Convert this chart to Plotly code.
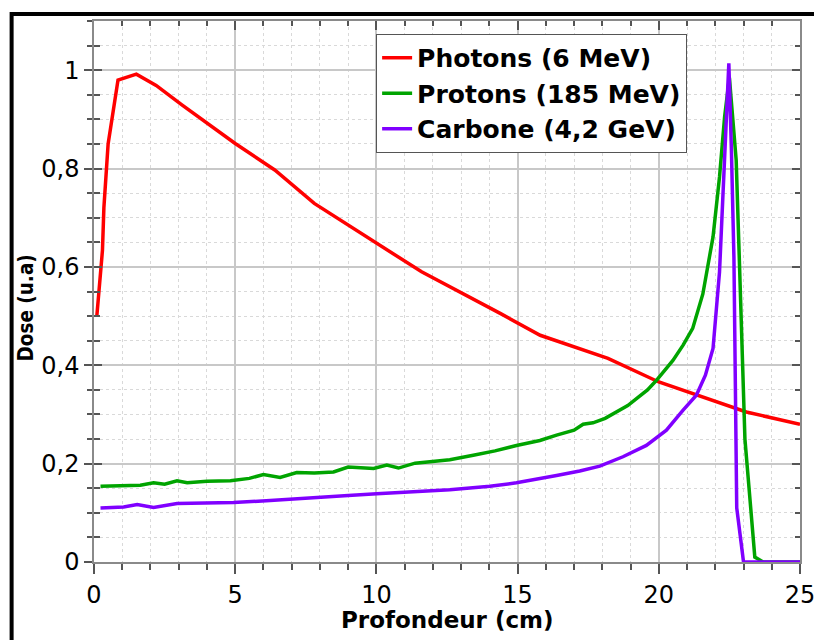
import plotly.graph_objects as go

# ---- data ----
photons_x = [0.1, 0.3, 0.35, 0.5, 0.85, 1.5, 2.2, 3.1, 5.0, 6.4, 7.8, 10.0, 11.6, 14.4, 15.8, 18.2, 20.0, 23.1, 25.0]
photons_y = [0.50, 0.634, 0.72, 0.85, 0.98, 0.992, 0.969, 0.93, 0.851, 0.797, 0.729, 0.648, 0.59, 0.505, 0.461, 0.414, 0.366, 0.305, 0.28]

protons_x = [0.23, 1.0, 1.64, 2.11, 2.5, 2.94, 3.3, 4.0, 4.83, 5.5, 6.0, 6.59, 7.18, 7.8, 8.48, 9.0, 9.9,
             10.37, 10.78, 11.37, 12.0, 12.6, 13.43, 14.2, 14.96, 15.79, 16.38, 17.0, 17.32, 17.67, 18.1,
             18.5, 18.9, 19.21, 19.6, 19.91, 20.2, 20.5, 20.86, 21.2, 21.56, 21.92, 22.15, 22.33, 22.5,
             22.74, 22.86, 23.05, 23.4, 23.7, 25.0]
protons_y = [0.154, 0.155, 0.156, 0.161, 0.158, 0.165, 0.161, 0.164, 0.165, 0.17, 0.178, 0.172, 0.182, 0.181,
             0.183, 0.193, 0.19, 0.197, 0.191, 0.201, 0.204, 0.208, 0.217, 0.226, 0.237, 0.247, 0.258, 0.268,
             0.280, 0.283, 0.292, 0.305, 0.318, 0.332, 0.35, 0.369, 0.39, 0.410, 0.441, 0.475, 0.545, 0.661,
             0.783, 0.905, 0.985, 0.817, 0.6, 0.25, 0.01, 0.0, 0.0]

carbone_x = [0.23, 1.05, 1.53, 2.11, 2.94, 4.0, 4.94, 6.24, 7.2, 8.13, 9.0, 10.01, 11.3, 12.6, 14.02, 14.96,
             16.38, 17.2, 17.91, 18.73, 19.56, 20.27, 20.86, 21.33, 21.65, 21.92, 22.15, 22.33, 22.48, 22.57,
             22.66, 22.76, 23.0, 25.0]
carbone_y = [0.110, 0.112, 0.117, 0.111, 0.119, 0.120, 0.121, 0.125, 0.128, 0.131, 0.135, 0.139, 0.143, 0.147,
             0.154, 0.161, 0.176, 0.185, 0.195, 0.214, 0.237, 0.268, 0.309, 0.339, 0.38, 0.434, 0.59, 0.837,
             1.014, 0.84, 0.62, 0.11, 0.0, 0.0]

series_names = ["Photons (6 MeV)", "Protons (185 MeV)", "Carbone (4,2 GeV)"]
series_colors = ["#ff0000", "#00a400", "#8000ff"]

x_title = "Profondeur (cm)"
y_title = "Dose (u.a)"

FONT = "DejaVu Sans"
FONT_COND = "DejaVu Sans Condensed, DejaVu Sans"

fig = go.Figure()
for xs, ys, name, col in zip([photons_x, protons_x, carbone_x], [photons_y, protons_y, carbone_y],
                             series_names, series_colors):
    fig.add_trace(go.Scatter(x=xs, y=ys, mode="lines", name=name,
                             line=dict(color=col, width=3.5)))

# dummy traces so the mirror axes are drawn
fig.add_trace(go.Scatter(x=[None], y=[None], xaxis="x2", yaxis="y2", showlegend=False, hoverinfo="skip"))
fig.add_trace(go.Scatter(x=[None], y=[None], xaxis="x", yaxis="y3", showlegend=False, hoverinfo="skip"))

grid_major = "#c8c8c8"
grid_minor = "#d9d9d9"
axis_line = "#8a8a8a"
tick_col = "#555555"

fig.update_layout(
    template="none",
    width=814, height=640,
    margin=dict(l=93.5, r=13.5, t=21, b=78, autoexpand=False),
    paper_bgcolor="white", plot_bgcolor="white",
    separators=", ",
    font=dict(family=FONT, size=24, color="black"),
    showlegend=True,
    legend=dict(x=0.3996, y=0.976, xanchor="left", yanchor="top",
                bgcolor="white", bordercolor="#555555", borderwidth=1,
                font=dict(family=FONT, size=25, color="black", weight="bold"),
                itemwidth=30, tracegroupgap=0),
    xaxis=dict(range=[0, 25], dtick=5, tick0=0, showgrid=True, gridcolor=grid_major, gridwidth=1.5,
               showline=True, linecolor=axis_line, linewidth=1.5,
               ticks="outside", ticklen=10, tickcolor=tick_col, tickwidth=1.5,
               minor=dict(dtick=1, showgrid=True, gridcolor=grid_minor, griddash="dot", gridwidth=1,
                          ticks="outside", ticklen=6, tickcolor=tick_col, tickwidth=1.5),
               tickfont=dict(family=FONT, size=24, color="black"),
               ticklabeloverflow="allow", automargin=False,
               zeroline=False, fixedrange=True),
    xaxis2=dict(range=[0, 25], overlaying="x", side="top", anchor="y", dtick=5, tick0=0,
                showgrid=False, showline=True, linecolor=axis_line, linewidth=1.5,
                ticks="inside", ticklen=9, tickcolor=tick_col, tickwidth=1.5,
                minor=dict(dtick=1, ticks="inside", ticklen=5, tickcolor=tick_col, tickwidth=1.5),
                showticklabels=False, zeroline=False, automargin=False),
    yaxis=dict(range=[0, 1.1], dtick=0.2, tick0=0, showgrid=True, gridcolor=grid_major, gridwidth=1.5,
               showline=True, linecolor=axis_line, linewidth=1.5,
               ticks="outside", ticklen=8, tickcolor=tick_col, tickwidth=1.5,
               minor=dict(dtick=0.05, showgrid=True, gridcolor=grid_minor, griddash="dot", gridwidth=1,
                          ticks="outside", ticklen=5, tickcolor=tick_col, tickwidth=1.5),
               tickfont=dict(family=FONT, size=24, color="black"),
               automargin=False, zeroline=False, fixedrange=True),
    yaxis2=dict(range=[0, 1.1], overlaying="y", side="right", anchor="x2", dtick=0.2, tick0=0,
                showgrid=False, showline=True, linecolor=axis_line, linewidth=1.5,
                ticks="inside", ticklen=8, tickcolor=tick_col, tickwidth=1.5,
                minor=dict(dtick=0.05, ticks="inside", ticklen=5, tickcolor=tick_col, tickwidth=1.5),
                showticklabels=False, zeroline=False, automargin=False),
    yaxis3=dict(range=[0, 1.1], overlaying="y", side="left", anchor="x", dtick=0.2, tick0=0,
                showgrid=False, showline=False,
                ticks="inside", ticklen=8, tickcolor=tick_col, tickwidth=1.5,
                minor=dict(dtick=0.05, ticks="inside", ticklen=6, tickcolor=tick_col, tickwidth=1.5),
                showticklabels=False, zeroline=False, automargin=False),
    annotations=[
        dict(text=x_title, xref="paper", yref="paper", x=0.5, y=-0.1072,
             xanchor="center", yanchor="middle", showarrow=False,
             font=dict(family=FONT, size=23, weight="bold", color="black")),
        dict(text=y_title, xref="paper", yref="paper", x=-0.0969, y=0.4695, textangle=-90,
             xanchor="center", yanchor="middle", showarrow=False,
             font=dict(family=FONT_COND, size=20.5, weight="bold", color="black")),
    ],
    shapes=[dict(type="rect", xref="paper", yref="paper",
                 x0=-0.1167, x1=1.2, y0=-0.3, y1=1.0129,
                 line=dict(color="black", width=4), fillcolor="rgba(0,0,0,0)", layer="above")],
)

fig.write_html("out.html", config={"displayModeBar": False},
               post_script="document.body.style.margin='0px';")
